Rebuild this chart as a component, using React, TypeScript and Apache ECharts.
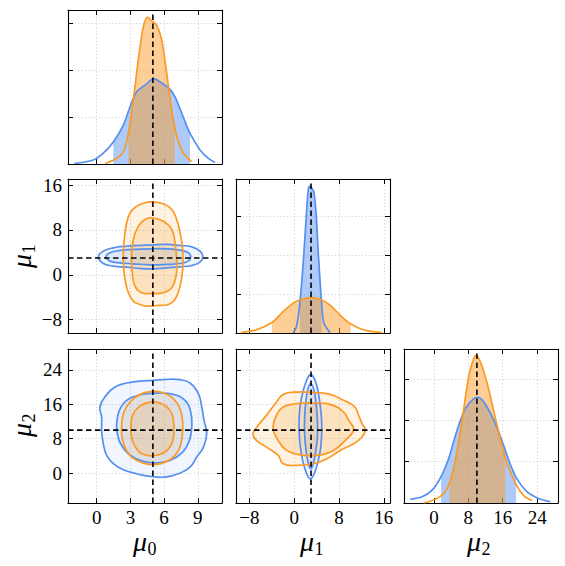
import React, { useEffect, useRef } from 'react';
import * as echarts from 'echarts';

// ---------------- data ----------------
const TRUE_MU0 = 5;
const TRUE_MU1 = 3;
const TRUE_MU2 = 10;

const MU0_TICKS = [0, 3, 6, 9];
const MU1_TICKS = [-8, 0, 8, 16];
const MU2_TICKS = [0, 8, 16, 24];
const DIAG_TICKS = [0, 1, 2, 3];

const MU0_RANGE = [-2.55, 11.15];
const MU1_RANGE = [-10.4, 17.1];
const MU2_RANGE = [-6.95, 28.85];

// marginal densities (height in units of the unlabeled diagonal tick spacing)
const BLUE_MU0_X = [-2.0, -0.3, 0.59, 1.48, 2.37, 2.97, 3.56, 4.3, 5.1, 5.64, 6.53, 6.97, 7.57, 8.31, 9.2, 9.94, 10.53];
const BLUE_MU0_Y = [0.01, 0.085, 0.23, 0.47, 0.83, 1.22, 1.54, 1.68, 1.82, 1.75, 1.59, 1.43, 1.08, 0.65, 0.3, 0.12, 0.03];
const ORANGE_MU0_X = [0.74, 1.63, 2.37, 2.82, 3.26, 3.7, 4.15, 4.54, 4.9, 5.34, 5.79, 6.23, 6.68, 6.97, 7.3, 7.71, 8.46];
const ORANGE_MU0_Y = [0.01, 0.1, 0.26, 0.65, 1.36, 2.21, 2.92, 3.13, 3.05, 2.96, 2.64, 1.93, 1.15, 0.75, 0.45, 0.23, 0.05];
const BLUE_MU0_BAND = [1.48, 8.31];
const ORANGE_MU0_BAND = [2.82, 6.97];
const DIAG0_YMAX = 3.28;

const BLUE_MU1_X = [-0.2, 0.4, 1.0, 1.6, 2.1, 2.5, 2.8, 3.15, 3.5, 3.9, 4.3, 4.9, 5.3, 6.4];
const BLUE_MU1_Y = [0.0, 0.16, 0.77, 1.8, 2.91, 3.69, 3.79, 3.73, 3.64, 3.09, 2.05, 0.75, 0.25, 0.01];
const ORANGE_MU1_X = [-9.5, -6.8, -4.0, -2.0, -0.2, 1.3, 3.1, 4.9, 6.4, 8.2, 10.1, 12.4, 15.7];
const ORANGE_MU1_Y = [0.01, 0.08, 0.27, 0.55, 0.77, 0.87, 0.91, 0.85, 0.72, 0.46, 0.23, 0.08, 0.01];
const BLUE_MU1_BAND = [1.0, 4.9];
const ORANGE_MU1_BAND = [-4.0, 10.1];
const DIAG1_YMAX = 3.97;

const BLUE_MU2_X = [-5.47, -2.74, -0.42, 1.67, 3.44, 5.4, 7.33, 9.26, 10.28, 11.58, 13.53, 15.47, 17.4, 19.12, 21.67, 24.37, 27.09];
const BLUE_MU2_Y = [0.09, 0.15, 0.31, 0.64, 1.08, 1.77, 2.29, 2.53, 2.56, 2.45, 2.09, 1.61, 1.04, 0.62, 0.27, 0.11, 0.03];
const ORANGE_MU2_X = [-2.37, 0.35, 2.28, 3.6, 5.0, 6.56, 8.09, 9.26, 9.81, 10.81, 12.37, 14.3, 16.63, 18.95, 20.88, 22.84];
const ORANGE_MU2_Y = [0.0, 0.09, 0.23, 0.48, 1.04, 2.01, 3.06, 3.5, 3.57, 3.42, 2.9, 2.05, 1.08, 0.48, 0.18, 0.06];
const BLUE_MU2_BAND = [1.67, 19.12];
const ORANGE_MU2_BAND = [3.6, 16.63];
const DIAG2_YMAX = 3.73;

// 2D contours (outer and inner levels)
const BLUE_MU0_MU1_OUTER = [[0.15, 3.2], [0.59, 4.22], [1.48, 4.81], [2.67, 5.11], [3.86, 5.23], [5.04, 5.35], [6.23, 5.41], [7.42, 5.23], [8.46, 4.99], [9.2, 4.22], [9.44, 3.2], [9.2, 2.25], [8.46, 1.66], [7.42, 1.42], [6.23, 1.24], [5.04, 1.06], [3.86, 1.12], [2.67, 1.36], [1.48, 1.54], [0.59, 2.01]];
const BLUE_MU0_MU1_INNER = [[0.83, 3.2], [1.18, 3.92], [2.08, 4.34], [3.26, 4.51], [4.75, 4.63], [6.23, 4.63], [7.42, 4.39], [8.16, 3.92], [8.37, 3.2], [8.16, 2.43], [7.42, 2.01], [6.23, 1.84], [4.75, 1.78], [3.26, 1.96], [2.08, 2.13], [1.18, 2.43]];
const ORANGE_MU0_MU1_OUTER = [[4.9, 13.0], [5.93, 12.67], [6.68, 11.66], [7.12, 9.87], [7.42, 7.49], [7.65, 4.51], [7.65, 0.94], [7.42, -2.03], [6.97, -4.41], [6.38, -5.31], [5.34, -5.49], [4.45, -5.6], [3.86, -5.31], [3.26, -4.71], [2.82, -3.22], [2.52, -0.84], [2.37, 2.13], [2.43, 5.7], [2.61, 8.68], [2.97, 11.06], [3.56, 12.25], [4.3, 12.85]];
const ORANGE_MU0_MU1_INNER = [[4.9, 10.17], [5.93, 9.57], [6.68, 8.09], [6.97, 5.7], [7.12, 2.73], [7.06, -0.25], [6.68, -2.33], [5.93, -3.22], [4.9, -3.34], [4.0, -3.22], [3.41, -2.03], [3.17, 0.35], [3.11, 3.32], [3.26, 6.3], [3.71, 8.68], [4.3, 9.87]];

const BLUE_MU0_MU2_OUTER = [[0.44, 13.03], [0.29, 15.36], [0.83, 18.07], [1.63, 20.01], [2.67, 20.94], [3.86, 21.4], [5.04, 21.56], [6.23, 21.79], [7.42, 21.71], [8.31, 20.94], [9.05, 18.46], [9.35, 15.36], [9.55, 12.26], [9.79, 9.15], [9.5, 6.05], [8.9, 3.73], [8.31, 1.4], [7.27, -0.15], [6.08, -0.92], [4.75, -0.77], [3.56, -0.15], [2.37, 0.78], [1.48, 2.18], [0.89, 4.12], [0.59, 6.83], [0.44, 9.93]];
const BLUE_MU0_MU2_INNER = [[1.78, 11.48], [2.02, 14.58], [2.67, 16.91], [3.86, 18.22], [5.34, 18.61], [6.82, 18.3], [7.86, 16.91], [8.37, 14.19], [8.46, 10.71], [8.25, 7.6], [7.65, 4.89], [6.53, 2.95], [5.19, 2.33], [3.86, 2.95], [2.82, 4.5], [2.13, 6.83], [1.84, 9.15]];
const ORANGE_MU0_MU2_OUTER = [[2.22, 10.55], [2.37, 13.81], [2.97, 16.52], [3.86, 18.3], [4.9, 19.0], [5.93, 18.69], [6.82, 17.29], [7.42, 14.97], [7.65, 11.87], [7.6, 8.38], [7.27, 5.28], [6.53, 3.11], [5.34, 2.02], [4.15, 2.33], [3.11, 3.73], [2.52, 6.05], [2.25, 8.38]];
const ORANGE_MU0_MU2_INNER = [[3.05, 10.55], [3.2, 13.42], [3.8, 15.51], [4.75, 16.52], [5.79, 16.13], [6.53, 14.58], [6.82, 12.26], [6.88, 9.54], [6.68, 6.83], [6.08, 4.89], [5.04, 4.04], [4.0, 4.5], [3.41, 6.21], [3.11, 8.38]];

const BLUE_MU1_MU2_OUTER = [[2.94, 22.88], [3.72, 21.56], [4.32, 18.46], [4.74, 14.58], [4.92, 10.71], [4.74, 6.05], [4.14, 2.18], [3.42, -0.54], [2.82, -1.31], [2.22, -0.15], [1.5, 2.95], [1.02, 6.83], [0.85, 10.71], [1.02, 15.36], [1.62, 19.23], [2.34, 21.95]];
const BLUE_MU1_MU2_INNER = [[3.0, 20.78], [3.54, 19.23], [3.9, 16.13], [4.14, 12.26], [4.14, 8.38], [3.78, 4.5], [3.3, 1.79], [2.94, 1.01], [2.52, 2.18], [2.1, 5.28], [1.86, 9.15], [1.86, 13.03], [2.1, 16.91], [2.46, 19.62]];
const ORANGE_MU1_MU2_OUTER = [[-7.36, 9.15], [-6.46, 11.09], [-4.96, 13.42], [-3.17, 16.52], [-1.97, 18.3], [0.43, 18.84], [4.02, 18.69], [6.41, 18.3], [8.81, 16.91], [10.73, 15.51], [11.5, 13.42], [12.1, 11.48], [12.7, 10.08], [12.1, 8.38], [10.61, 6.83], [8.21, 5.28], [5.82, 3.34], [3.42, 2.18], [0.43, 1.79], [-1.97, 2.18], [-2.87, 4.12], [-4.96, 6.05], [-6.76, 7.6]];
const ORANGE_MU1_MU2_INNER = [[-3.77, 10.32], [-3.17, 13.42], [-1.97, 15.36], [0.43, 16.13], [3.42, 16.29], [6.41, 15.98], [8.81, 14.19], [9.71, 12.26], [10.6, 10.08], [9.11, 7.6], [7.01, 5.28], [4.02, 4.12], [1.02, 4.27], [-1.37, 5.28], [-2.87, 7.6]];

// ---------------- styling ----------------
const BLUE = '#5590f0';
const ORANGE = '#fb9a24';
const SERIF = 'Liberation Serif';
const PANEL = 154;
const COLS = [68, 236, 404];
const ROWS = [10, 179, 349];

type V = 'mu0' | 'mu1' | 'mu2';
const VARS: Record<V, { range: number[]; ticks: number[]; truth: number }> = {
  mu0: { range: MU0_RANGE, ticks: MU0_TICKS, truth: TRUE_MU0 },
  mu1: { range: MU1_RANGE, ticks: MU1_TICKS, truth: TRUE_MU1 },
  mu2: { range: MU2_RANGE, ticks: MU2_TICKS, truth: TRUE_MU2 },
};

const zip = (xs: number[], ys: number[]) => xs.map((x, i) => [x, ys[i]]);

const DIAG: Record<V, any> = {
  mu0: { blue: zip(BLUE_MU0_X, BLUE_MU0_Y), orange: zip(ORANGE_MU0_X, ORANGE_MU0_Y), bb: BLUE_MU0_BAND, ob: ORANGE_MU0_BAND, ymax: DIAG0_YMAX },
  mu1: { blue: zip(BLUE_MU1_X, BLUE_MU1_Y), orange: zip(ORANGE_MU1_X, ORANGE_MU1_Y), bb: BLUE_MU1_BAND, ob: ORANGE_MU1_BAND, ymax: DIAG1_YMAX },
  mu2: { blue: zip(BLUE_MU2_X, BLUE_MU2_Y), orange: zip(ORANGE_MU2_X, ORANGE_MU2_Y), bb: BLUE_MU2_BAND, ob: ORANGE_MU2_BAND, ymax: DIAG2_YMAX },
};

const CONTOURS: Record<string, any> = {
  'mu0|mu1': { blue: [BLUE_MU0_MU1_OUTER, BLUE_MU0_MU1_INNER], orange: [ORANGE_MU0_MU1_OUTER, ORANGE_MU0_MU1_INNER] },
  'mu0|mu2': { blue: [BLUE_MU0_MU2_OUTER, BLUE_MU0_MU2_INNER], orange: [ORANGE_MU0_MU2_OUTER, ORANGE_MU0_MU2_INNER] },
  'mu1|mu2': { blue: [BLUE_MU1_MU2_OUTER, BLUE_MU1_MU2_INNER], orange: [ORANGE_MU1_MU2_OUTER, ORANGE_MU1_MU2_INNER] },
};

const PANELS: { r: number; c: number; x: V; y: V | null }[] = [
  { r: 0, c: 0, x: 'mu0', y: null },
  { r: 1, c: 0, x: 'mu0', y: 'mu1' },
  { r: 1, c: 1, x: 'mu1', y: null },
  { r: 2, c: 0, x: 'mu0', y: 'mu2' },
  { r: 2, c: 1, x: 'mu1', y: 'mu2' },
  { r: 2, c: 2, x: 'mu2', y: null },
];

const fmt = (v: number) => (v < 0 ? '\u2212' + Math.abs(v) : String(v));

function axis(kind: 'x' | 'y', gi: number, range: number[], ticks: number[], main: boolean, showLabel: boolean) {
  return {
    type: 'value',
    gridIndex: gi,
    min: range[0],
    max: range[1],
    position: kind === 'x' ? (main ? 'bottom' : 'top') : main ? 'left' : 'right',
    axisLine: { show: true, onZero: false, lineStyle: { color: '#000', width: 1.1 } },
    axisTick: { show: true, inside: true, length: 5, customValues: ticks, lineStyle: { color: '#000', width: 1 } },
    axisLabel: {
      show: showLabel,
      customValues: ticks,
      formatter: fmt,
      fontFamily: SERIF,
      fontSize: 19,
      color: '#000',
      margin: kind === 'x' ? 5 : 6,
    },
    splitLine: { show: main, lineStyle: { color: '#c8c8c8', width: 0.8, type: [1.2, 2.2] } },
    splitArea: { show: false },
    minorTick: { show: false },
  };
}

function buildOption() {
  const grid: any[] = [];
  const xAxis: any[] = [];
  const yAxis: any[] = [];
  const series: any[] = [];

  PANELS.forEach((p, i) => {
    grid.push({ left: COLS[p.c], top: ROWS[p.r], width: PANEL, height: PANEL, containLabel: false, outerBoundsMode: 'none', show: false });
    const xv = VARS[p.x];
    xAxis.push(axis('x', i, xv.range, xv.ticks, true, p.r === 2));
    xAxis.push(axis('x', i, xv.range, xv.ticks, false, false));
    let yRange: number[];
    let yTicks: number[];
    if (p.y) {
      yRange = VARS[p.y].range;
      yTicks = VARS[p.y].ticks;
    } else {
      yRange = [0, DIAG[p.x].ymax];
      yTicks = DIAG_TICKS;
    }
    yAxis.push(axis('y', i, yRange, yTicks, true, p.c === 0 && p.r > 0));
    yAxis.push(axis('y', i, yRange, yTicks, false, false));
    const xi = 2 * i;
    const yi = 2 * i;

    const dashed = (data: number[][]) => ({
      type: 'line',
      xAxisIndex: xi,
      yAxisIndex: yi,
      data,
      showSymbol: false,
      symbol: 'none',
      silent: true,
      z: 10,
      lineStyle: { color: '#000', width: 1.6, type: [5.5, 3.5] },
    });

    if (!p.y) {
      const d = DIAG[p.x];
      const band = (pts: number[][], b: number[]) => pts.filter((q) => q[0] >= b[0] - 1e-9 && q[0] <= b[1] + 1e-9);
      const fill = (pts: number[][], color: string) => ({
        type: 'line',
        xAxisIndex: xi,
        yAxisIndex: yi,
        data: pts,
        smooth: 0.3,
        showSymbol: false,
        symbol: 'none',
        silent: true,
        z: 2,
        lineStyle: { width: 0 },
        areaStyle: { color, opacity: 0.48 },
      });
      const curve = (pts: number[][], color: string) => ({
        type: 'line',
        xAxisIndex: xi,
        yAxisIndex: yi,
        data: pts,
        smooth: 0.3,
        showSymbol: false,
        symbol: 'none',
        silent: true,
        z: 4,
        lineStyle: { color, width: 1.7 },
      });
      series.push(fill(band(d.blue, d.bb), BLUE));
      series.push(fill(band(d.orange, d.ob), ORANGE));
      series.push(curve(d.blue, BLUE));
      series.push(curve(d.orange, ORANGE));
      series.push(dashed([[xv.truth, 0], [xv.truth, d.ymax]]));
    } else {
      const cs = CONTOURS[p.x + '|' + p.y];
      const poly = (pts: number[][], color: string, alpha: number, z: number) => ({
        type: 'custom',
        xAxisIndex: xi,
        yAxisIndex: yi,
        coordinateSystem: 'cartesian2d',
        data: [pts[0]],
        silent: true,
        clip: true,
        z,
        renderItem: (_params: any, api: any) => ({
          type: 'polygon',
          shape: { points: pts.map((q) => api.coord(q)), smooth: 0.45 },
          style: { fill: color, opacity: alpha, stroke: 'none' },
        }),
      });
      const ring = (pts: number[][], color: string, z: number) => ({
        type: 'custom',
        xAxisIndex: xi,
        yAxisIndex: yi,
        coordinateSystem: 'cartesian2d',
        data: [pts[0]],
        silent: true,
        clip: true,
        z,
        renderItem: (_params: any, api: any) => ({
          type: 'polygon',
          shape: { points: pts.map((q) => api.coord(q)), smooth: 0.45 },
          style: { fill: 'none', stroke: color, lineWidth: 1.7 },
        }),
      });
      series.push(poly(cs.blue[0], BLUE, 0.09, 2));
      series.push(poly(cs.blue[1], BLUE, 0.13, 2));
      series.push(poly(cs.orange[0], ORANGE, 0.13, 2));
      series.push(poly(cs.orange[1], ORANGE, 0.18, 2));
      series.push(ring(cs.blue[0], BLUE, 5));
      series.push(ring(cs.blue[1], BLUE, 5));
      series.push(ring(cs.orange[0], ORANGE, 6));
      series.push(ring(cs.orange[1], ORANGE, 6));
      const yv = VARS[p.y];
      series.push(dashed([[xv.truth, yv.range[0]], [xv.truth, yv.range[1]]]));
      series.push(dashed([[xv.range[0], yv.truth], [xv.range[1], yv.truth]]));
    }
  });

  const muStyle = { fill: '#000', fontFamily: SERIF, fontSize: 28, fontStyle: 'italic', align: 'left', verticalAlign: 'middle', textAlign: 'left', textVerticalAlign: 'middle' };
  const subStyle = { fill: '#000', fontFamily: SERIF, fontSize: 18, align: 'left', verticalAlign: 'middle', textAlign: 'left', textVerticalAlign: 'middle' };
  const name = (sub: string) => [
    { type: 'text', x: 0, y: 0, style: { ...muStyle, text: 'μ' } },
    { type: 'text', x: 14.5, y: 8, style: { ...subStyle, text: sub } },
  ];
  const bottomName = (x: number, sub: string) => ({ type: 'group', x, y: 541, children: name(sub) });
  const leftName = (y: number, sub: string) => ({ type: 'group', x: 21, y, rotation: Math.PI / 2, children: name(sub) });

  return {
    animation: false,
    backgroundColor: '#ffffff',
    textStyle: { fontFamily: SERIF },
    grid,
    xAxis,
    yAxis,
    series,
    graphic: [
      bottomName(133, '0'),
      bottomName(300, '1'),
      bottomName(467, '2'),
      leftName(268, '1'),
      leftName(437, '2'),
    ],
  };
}

export default function App() {
  const ref = useRef<HTMLDivElement>(null);
  useEffect(() => {
    const chart = echarts.init(ref.current as HTMLDivElement, null, { renderer: 'svg' });
    chart.setOption(buildOption() as any);
    return () => chart.dispose();
  }, []);
  return <div ref={ref} style={{ position: 'absolute', left: 0, top: 0, width: 565, height: 566 }} />;
}
